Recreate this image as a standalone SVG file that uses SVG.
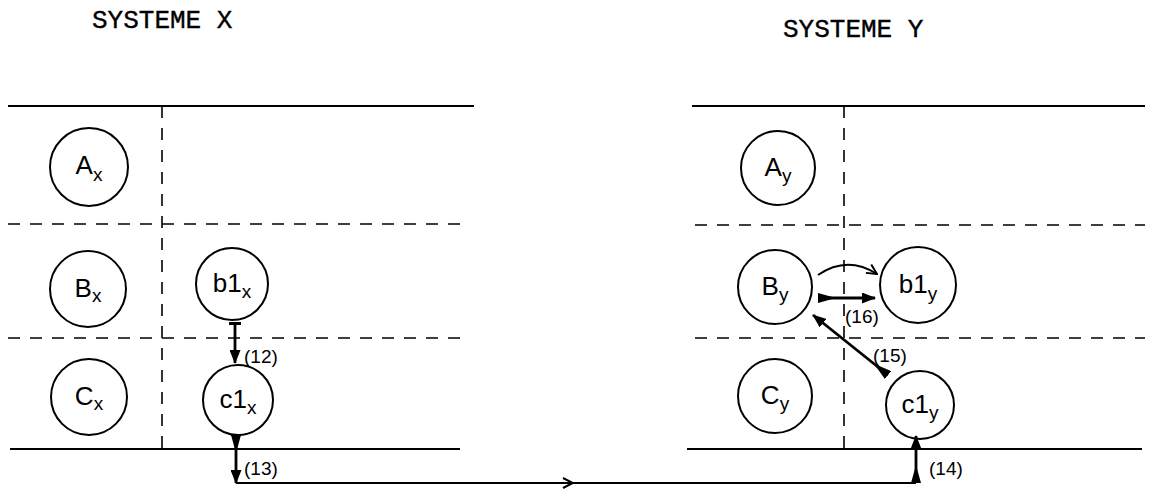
<svg xmlns="http://www.w3.org/2000/svg" width="1152" height="490" viewBox="0 0 1152 490">
<style>
.title{font-family:"Liberation Mono","Courier New",monospace;font-size:26px;fill:#000;stroke:#000;stroke-width:0.4}
.node circle{fill:none;stroke:#000;stroke-width:2}
.lbl{font-family:"Liberation Sans",Arial,sans-serif;font-size:26px;fill:#000;text-anchor:middle}
.sub{font-size:19px}
.num{font-family:"Liberation Sans",Arial,sans-serif;font-size:19px;fill:#000}
.solid{stroke:#000;stroke-width:2;fill:none}
.dash{stroke:#000;stroke-width:1.6;fill:none;stroke-dasharray:12 10}
.arr{stroke:#000;stroke-width:2.8;fill:none}
.thin{stroke:#000;stroke-width:2;fill:none}
</style>
<defs>
<marker id="head" markerUnits="userSpaceOnUse" viewBox="0 0 14 11" refX="13" refY="5.5" markerWidth="14" markerHeight="11" orient="auto"><path d="M0,0 L14,5.5 L0,11 z" fill="#000"/></marker>
<marker id="tail" markerUnits="userSpaceOnUse" viewBox="0 0 18 10" refX="0" refY="5" markerWidth="18" markerHeight="10" orient="auto"><path d="M0,0 L0,10 L18,5 z" fill="#000"/></marker>
<marker id="bar" markerUnits="userSpaceOnUse" viewBox="0 0 4 12" refX="1" refY="6" markerWidth="4" markerHeight="12" orient="auto"><rect x="0" y="0" width="3" height="12" fill="#000"/></marker>
<marker id="open" markerUnits="userSpaceOnUse" viewBox="0 0 12 12" refX="11" refY="6" markerWidth="12" markerHeight="12" orient="auto"><path d="M1,1 L11,6 L1,11" fill="none" stroke="#000" stroke-width="2"/></marker>
</defs>

<g id="titles">
<text class="title" x="92" y="28">SYSTEME X</text>
<text class="title" x="783" y="37">SYSTEME Y</text>
</g>

<g id="frame-x">
<line class="solid" x1="8" y1="106" x2="474" y2="106"/>
<line class="solid" x1="10" y1="449" x2="460" y2="449"/>
<line class="dash" x1="8" y1="224" x2="462" y2="224"/>
<line class="dash" x1="8" y1="338" x2="460" y2="338"/>
<line class="dash" x1="162" y1="106" x2="162" y2="449"/>
</g>

<g id="frame-y">
<line class="solid" x1="692" y1="106" x2="1145" y2="106"/>
<line class="solid" x1="687" y1="449" x2="1142" y2="449"/>
<line class="dash" x1="695" y1="225" x2="1145" y2="225"/>
<line class="dash" x1="695" y1="338" x2="1145" y2="338"/>
<line class="dash" x1="844" y1="106" x2="844" y2="449"/>
</g>

<g id="Ax" class="node"><circle cx="89" cy="167" r="39"/><text class="lbl" x="89" y="174">A<tspan class="sub" dy="7">x</tspan></text></g>
<g id="Bx" class="node"><circle cx="88" cy="289" r="38"/><text class="lbl" x="88" y="297">B<tspan class="sub" dy="5">x</tspan></text></g>
<g id="Cx" class="node"><circle cx="89" cy="397" r="38"/><text class="lbl" x="89" y="405">C<tspan class="sub" dy="5">x</tspan></text></g>
<g id="b1x" class="node"><circle cx="232" cy="284" r="36"/><text class="lbl" x="232" y="292">b1<tspan class="sub" dy="6">x</tspan></text></g>
<g id="c1x" class="node"><circle cx="238" cy="400" r="35"/><text class="lbl" x="238" y="408">c1<tspan class="sub" dy="6">x</tspan></text></g>

<g id="Ay" class="node"><circle cx="778" cy="168" r="37"/><text class="lbl" x="778" y="176">A<tspan class="sub" dy="6">y</tspan></text></g>
<g id="By" class="node"><circle cx="775" cy="287" r="37"/><text class="lbl" x="775" y="295">B<tspan class="sub" dy="6">y</tspan></text></g>
<g id="Cy" class="node"><circle cx="775" cy="396" r="37"/><text class="lbl" x="775" y="404">C<tspan class="sub" dy="6">y</tspan></text></g>
<g id="b1y" class="node"><circle cx="918" cy="285" r="38"/><text class="lbl" x="918" y="293">b1<tspan class="sub" dy="7">y</tspan></text></g>
<g id="c1y" class="node"><circle cx="920" cy="405" r="34"/><text class="lbl" x="920" y="413">c1<tspan class="sub" dy="6">y</tspan></text></g>

<g id="connectors">
<line class="arr" x1="235" y1="323" x2="235" y2="363" marker-start="url(#bar)" marker-end="url(#head)"/>
<text class="num" x="244" y="363">(12)</text>
<line class="arr" x1="236" y1="435" x2="236" y2="483" marker-start="url(#tail)" marker-end="url(#head)"/>
<text class="num" x="244" y="475">(13)</text>
<path class="thin" d="M236,483 L573,483 L916,483" marker-mid="url(#open)"/>
<line class="arr" x1="916" y1="483" x2="916" y2="436" marker-start="url(#tail)" marker-end="url(#head)"/>
<text class="num" x="929" y="475">(14)</text>
<line class="arr" x1="888" y1="375" x2="813" y2="315" marker-start="url(#tail)" marker-end="url(#head)"/>
<text class="num" x="873" y="362">(15)</text>
<line class="arr" x1="818" y1="298" x2="875" y2="298" marker-start="url(#tail)" marker-end="url(#head)"/>
<text class="num" x="845" y="323">(16)</text>
<path class="thin" d="M818,275 Q847,255 877,274" marker-end="url(#open)"/>
</g>
</svg>
